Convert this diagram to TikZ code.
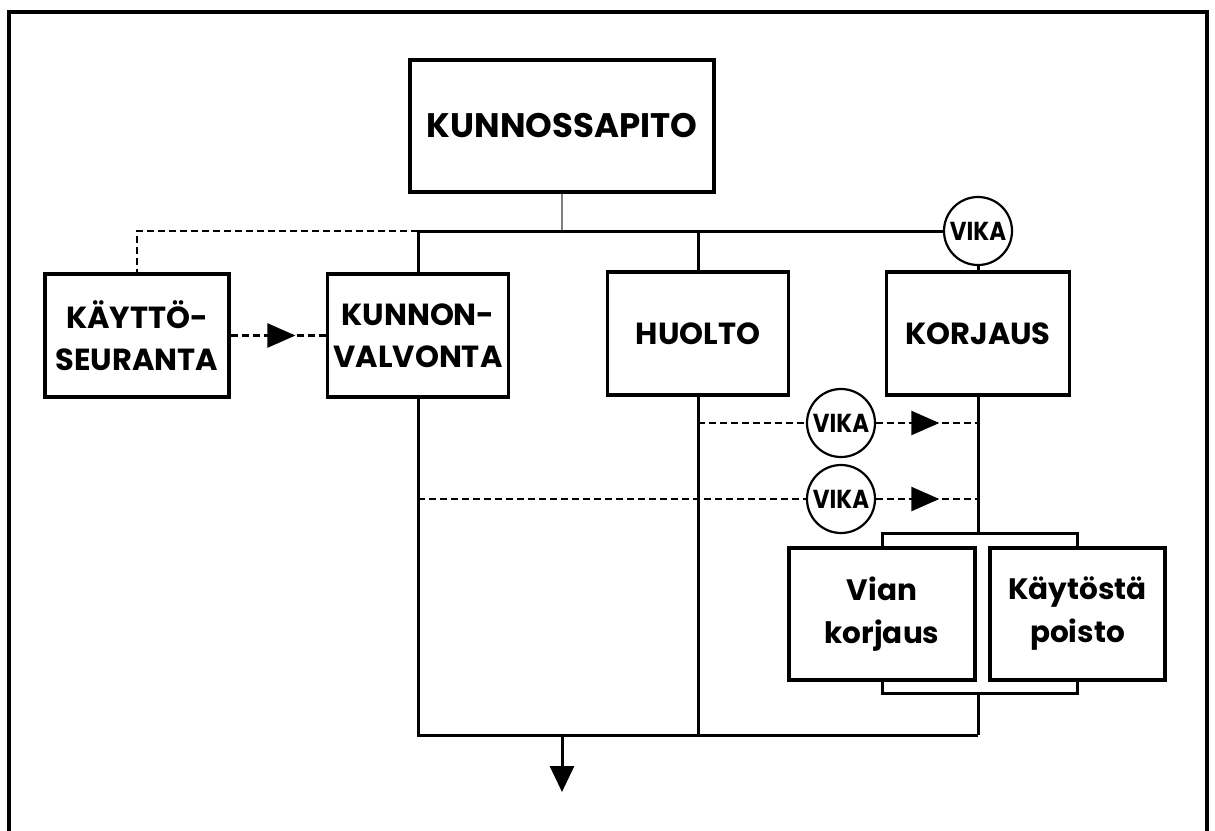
\documentclass[tikz,border=0pt]{standalone}
\usepackage{fontspec}
\setmainfont{Poppins}
\newfontfamily\vikafont[FakeStretch=0.88]{Poppins}
\usetikzlibrary{arrows.meta,decorations.markings}
\begin{document}
\begin{tikzpicture}[x=1pt,y=-1pt,
  box/.style={draw,line width=3.2pt,minimum width=#1,inner sep=0pt,align=center,
    font=\bfseries\fontsize{30.5}{42}\selectfont},
  vika/.style={draw,circle,line width=2.2pt,minimum size=68pt,inner sep=0pt,
    font=\vikafont\bfseries\fontsize{26}{30}\selectfont},
  wire/.style={line width=3pt},
  dwire/.style={line width=2.6pt,dash pattern=on 7pt off 4pt},
  midarrow/.style={postaction={decorate},decoration={markings,
    mark=at position #1 with {\arrow{Triangle[length=28pt,width=24pt]}}}}
]
\useasboundingbox (0,0) rectangle (1215,830);
\fill[white] (0,0) rectangle (1215,830);
\draw[line width=4pt] (9,845) -- (9,12) -- (1207,12) -- (1207,845);

% boxes
\node[box=304pt,minimum height=132pt,font=\bfseries\fontsize{34}{42}\selectfont] (top) at (562,126) {KUNNOSSAPITO};
\node[box=184pt,minimum height=123pt] (kayt) at (137,335.5) {KÄYTTÖ-\\SEURANTA};
\node[box=181pt,minimum height=123pt] (kunn) at (418,335.5) {KUNNON-\\VALVONTA};
\node[box=181pt,minimum height=123pt] (huolto) at (698,333.5) {HUOLTO};
\node[box=183pt,minimum height=123pt] (korj) at (978,333.5) {KORJAUS};
\node[box=186pt,minimum height=132pt,font=\bfseries\fontsize{29.5}{43}\selectfont] (vian) at (882,614) {Vian\\korjaus};
\node[box=175pt,minimum height=132pt,font=\bfseries\fontsize{29.5}{43}\selectfont] (poisto) at (1077.5,614) {Käytöstä\\poisto};

% VIKA circles
\node[vika] (v0) at (978,231) {VIKA};
\node[vika] (v1) at (841,423) {VIKA};
\node[vika] (v2) at (841,499) {VIKA};

% junction coordinates
\coordinate (brt) at (978,533);
\coordinate (brb) at (978,693);
\coordinate (base) at (978,735);
\coordinate (outtop) at (top.south |- base);
\coordinate (out) at (top.south |- 0,792);

% top tree
\draw[line width=2.2pt,gray] (top.south) -- (top.south |- v0);
\draw[wire] (kunn.north) |- (v0.west);
\draw[wire] (huolto.north) -- (huolto.north |- v0);
\draw[wire] (v0.south) -- (korj.north);
\draw[dwire] (kunn.north |- v0) -| (kayt.north);
\draw[dwire,midarrow=0.68] (kayt.east) -- (kunn.west);

% VIKA flows
\draw[dwire] (huolto.south |- v1) -- (v1.west);
\draw[dwire,midarrow=0.62] (v1.east) -- (korj.south |- v1);
\draw[dwire] (kunn.south |- v2) -- (v2.west);
\draw[dwire,midarrow=0.62] (v2.east) -- (korj.south |- v2);

% korjaus branch
\draw[wire] (korj.south) -- (brt);
\draw[wire] (vian.north) |- (brt) -| (poisto.north);
\draw[wire] (vian.south) |- (brb) -| (poisto.south);
\draw[wire] (brb) -- (base);

% collecting line and output
\draw[wire] (kunn.south) |- (base);
\draw[wire] (huolto.south) -- (huolto.south |- base);
\draw[wire,-{Triangle[length=26pt,width=24pt]}] (outtop) -- (out);
\end{tikzpicture}
\end{document}
